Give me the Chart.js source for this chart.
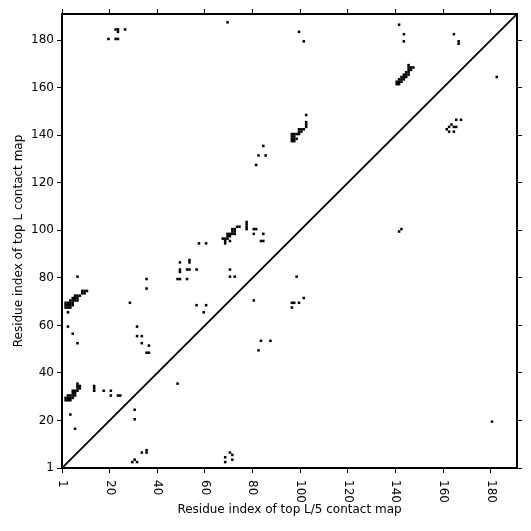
<!DOCTYPE html>
<html>
<head>
<meta charset="utf-8">
<script src="https://cdn.jsdelivr.net/npm/chart.js@4.4.1/dist/chart.umd.min.js"></script>
<style>
    html, body { margin: 0; padding: 0; background: #fff; }
</style>
</head>
<body>
<canvas id="contactChart" width="531" height="531"></canvas>
<script>
// Sequence length and tick marks (tick at 0 is labelled "1")
const seqLength = 191;
const tickPositions = [0, 20, 40, 60, 80, 100, 120, 140, 160, 180];
const tickLabels = ['1', '20', '40', '60', '80', '100', '120', '140', '160', '180'];

// Upper triangle: top L contacts [i, j]
const topLContacts = [
    [2, 29], [3, 29], [4, 29],
    [2, 30], [3, 30], [4, 30], [5, 30],
    [3, 31], [4, 31], [5, 31], [6, 31],
    [5, 32], [6, 32],
    [5, 33], [6, 33], [7, 33],
    [7, 34], [8, 34],
    [7, 35], [8, 35],
    [7, 36],
    [14, 33], [14, 34], [14, 35], [18, 33], [21, 33], [21, 31], [24, 31], [25, 31],
    [4, 23], [6, 17],
    [2, 68], [3, 68], [4, 68],
    [2, 69], [3, 69], [4, 69], [5, 69],
    [2, 70], [3, 70], [4, 70], [5, 70],
    [4, 71], [5, 71], [6, 71], [7, 71],
    [5, 72], [6, 72], [7, 72],
    [6, 73], [7, 73], [8, 73],
    [9, 74], [10, 74],
    [9, 75], [10, 75], [11, 75],
    [7, 81], [36, 80], [36, 76], [29, 70], [3, 66], [3, 60], [5, 57], [7, 53],
    [32, 60], [32, 56], [34, 56], [34, 53], [37, 52], [36, 49], [37, 49],
    [50, 87], [54, 87], [54, 88], [50, 83], [50, 84], [53, 84], [54, 84], [57, 84],
    [49, 80], [50, 80], [53, 80], [57, 69], [61, 69], [60, 66], [58, 95], [61, 95],
    [71, 84], [71, 81], [73, 81],
    [69, 95], [69, 96], [71, 96], [68, 97], [69, 97], [70, 97],
    [70, 98], [71, 98], [70, 99], [71, 99], [72, 99], [73, 99],
    [72, 100], [73, 100], [72, 101], [73, 101], [74, 102], [75, 102],
    [78, 101], [78, 102], [78, 103], [78, 104],
    [81, 101], [82, 101], [81, 99], [85, 99], [84, 96], [85, 96],
    [82, 128], [83, 132], [86, 132], [85, 136],
    [97, 138], [98, 138], [97, 139], [98, 139], [99, 139], [97, 140], [98, 140], [97, 141], [98, 141],
    [99, 141], [100, 141], [100, 142], [101, 142], [100, 143], [101, 143], [102, 143],
    [103, 144], [103, 145], [103, 146], [103, 149],
    [141, 162], [142, 162],
    [141, 163], [142, 163], [143, 163],
    [142, 164], [143, 164], [144, 164],
    [143, 165], [144, 165], [145, 165],
    [144, 166], [145, 166], [146, 166],
    [145, 167], [146, 167],
    [146, 168], [147, 168],
    [146, 169], [147, 169], [148, 169],
    [146, 170],
    [20, 181], [23, 181], [24, 181], [23, 185], [24, 185], [24, 184], [27, 185],
    [70, 188], [100, 184], [102, 180], [142, 187], [144, 183], [144, 180],
    [165, 183], [167, 179], [167, 180],
];

// Lower triangle: top L/5 contacts [i, j]
const topL5Contacts = [
    [31, 25], [31, 21], [34, 7], [36, 7], [36, 8], [30, 3], [31, 4], [32, 3],
    [49, 36], [69, 3], [69, 5], [71, 7], [72, 6], [72, 4],
    [83, 50], [84, 54], [88, 54], [81, 71],
    [97, 70], [98, 70], [100, 70], [102, 72], [97, 68], [99, 81],
    [142, 100], [143, 101],
    [166, 147], [168, 147], [164, 145], [166, 144], [163, 144], [165, 144],
    [162, 143], [163, 142], [165, 142],
    [183, 165], [181, 20],
];

const fontFamily = '"DejaVu Sans", sans-serif';

// cell centre sits half a residue before the index
function toPoints(pairs) {
    return pairs.map(p => ({ x: p[0] - 0.5, y: p[1] - 0.5 }));
}

function setTicks(scale) {
    scale.ticks = tickPositions.map(v => ({ value: v }));
}

// frame ticks: outward marks, thick border
const frameGrid = { drawOnChartArea: false, drawTicks: true, tickLength: 5, color: '#000', lineWidth: 1 };
const frameBorder = { display: true, color: '#000', width: 2 };

// x tick labels are rotated clockwise (read top to bottom)
const rotatedXLabels = {
    id: 'rotatedXLabels',
    afterDraw(chart) {
        const scale = chart.scales.x;
        const ctx = chart.ctx;
        ctx.save();
        ctx.font = '12px ' + fontFamily;
        ctx.fillStyle = '#000';
        ctx.textAlign = 'left';
        ctx.textBaseline = 'middle';
        tickPositions.forEach((pos, i) => {
            ctx.save();
            ctx.translate(scale.getPixelForValue(pos), scale.top + 12);
            ctx.rotate(Math.PI / 2);
            ctx.fillText(tickLabels[i], 0, 0);
            ctx.restore();
        });
        ctx.restore();
    }
};

const ctx = document.getElementById('contactChart').getContext('2d');
new Chart(ctx, {
    type: 'scatter',
    data: {
        datasets: [
            {
                label: 'top L',
                data: toPoints(topLContacts),
                pointStyle: 'rect',
                pointRadius: 1.8,
                pointBorderWidth: 0,
                backgroundColor: '#000',
                borderColor: '#000',
            },
            {
                label: 'top L/5',
                data: toPoints(topL5Contacts),
                pointStyle: 'rect',
                pointRadius: 1.8,
                pointBorderWidth: 0,
                backgroundColor: '#000',
                borderColor: '#000',
            },
            {
                label: 'diagonal',
                data: [{ x: 0, y: 0 }, { x: seqLength, y: seqLength }],
                showLine: true,
                borderColor: '#000',
                borderWidth: 1.8,
                pointRadius: 0,
            },
        ],
    },
    options: {
        responsive: false,
        animation: false,
        layout: { padding: 0 },
        plugins: {
            legend: { display: false },
            tooltip: { enabled: false },
        },
        scales: {
            x: {
                type: 'linear',
                position: 'bottom',
                min: 0,
                max: seqLength,
                afterBuildTicks: setTicks,
                afterFit: s => { s.height = 63; },
                ticks: { display: false },
                grid: frameGrid,
                border: frameBorder,
                title: {
                    display: true,
                    text: 'Residue index of top L/5 contact map',
                    font: { family: fontFamily, size: 12 },
                    color: '#000',
                    padding: { top: 0, bottom: 14 },
                },
            },
            y: {
                type: 'linear',
                position: 'left',
                min: 0,
                max: seqLength,
                afterBuildTicks: setTicks,
                afterFit: s => { s.width = 62; },
                ticks: {
                    autoSkip: false,
                    padding: 3,
                    color: '#000',
                    font: { family: fontFamily, size: 12 },
                    callback: v => tickLabels[tickPositions.indexOf(v)],
                },
                grid: frameGrid,
                border: frameBorder,
                title: {
                    display: true,
                    text: 'Residue index of top L contact map',
                    font: { family: fontFamily, size: 12 },
                    color: '#000',
                    padding: { top: 12, bottom: 0 },
                },
            },
            xTop: {
                type: 'linear',
                position: 'top',
                min: 0,
                max: seqLength,
                afterBuildTicks: setTicks,
                afterFit: s => { s.height = 14; },
                ticks: { display: false },
                grid: frameGrid,
                border: frameBorder,
            },
            yRight: {
                type: 'linear',
                position: 'right',
                min: 0,
                max: seqLength,
                afterBuildTicks: setTicks,
                afterFit: s => { s.width = 14; },
                ticks: { display: false },
                grid: frameGrid,
                border: frameBorder,
            },
        },
    },
    plugins: [rotatedXLabels],
});
</script>
</body>
</html>
